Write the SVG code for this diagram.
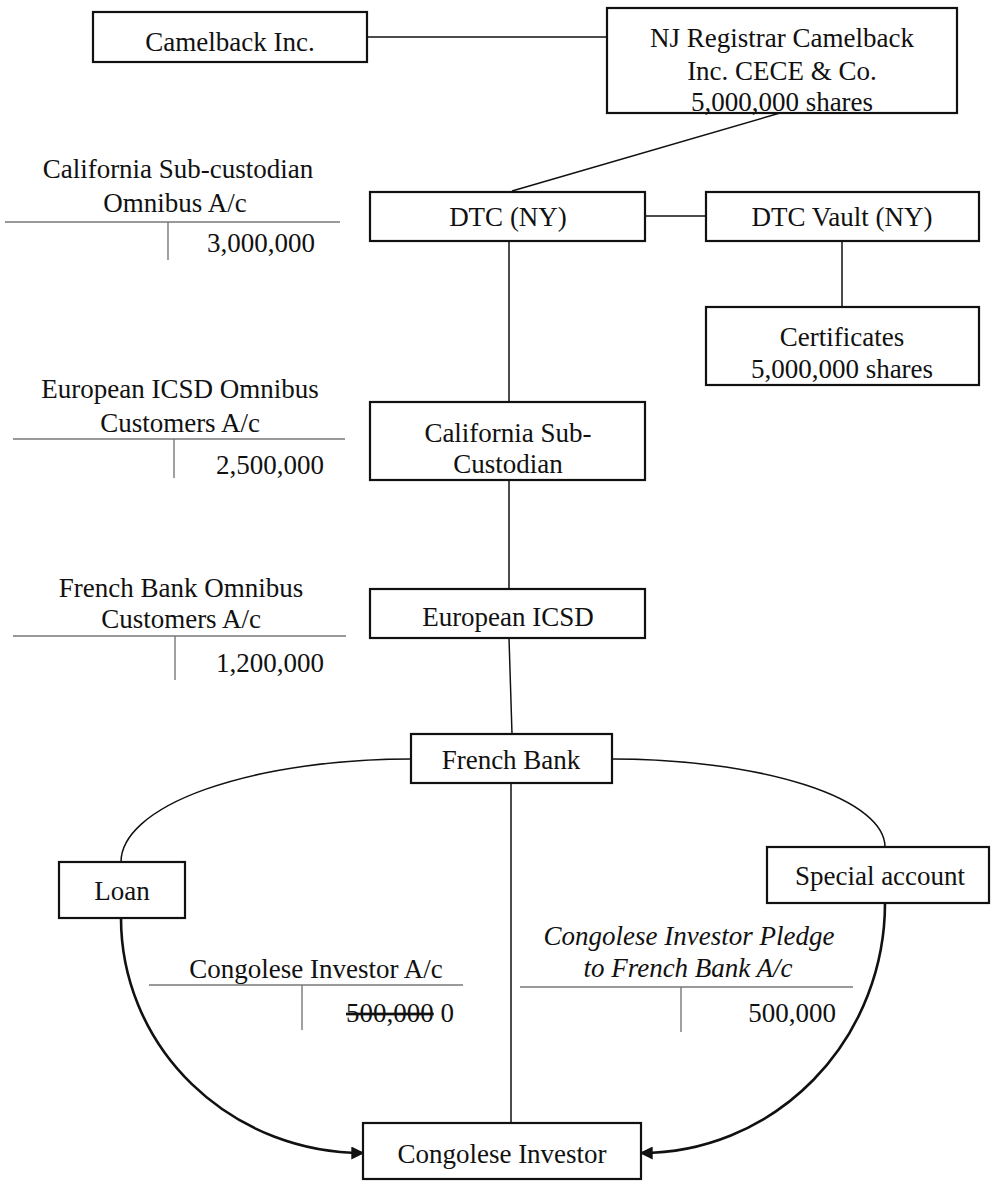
<svg xmlns="http://www.w3.org/2000/svg" width="1000" height="1181" viewBox="0 0 1000 1181">
<style>
text{font-family:"Liberation Serif","Times New Roman",serif;font-size:27px;fill:#111}
.box{fill:#fff;stroke:#111;stroke-width:2.2}
.ln{fill:none;stroke:#111;stroke-width:1.5}
.thick{fill:none;stroke:#111;stroke-width:2.6}
.tl{fill:none;stroke:#777;stroke-width:1.4}
.c{text-anchor:middle}
.r{text-anchor:end}
</style>
<defs>
<marker id="arr" viewBox="0 0 10 10" refX="9" refY="5" markerWidth="5" markerHeight="5" markerUnits="strokeWidth" orient="auto">
<path d="M0,0 L10,5 L0,10 z" fill="#111"/>
</marker>
</defs>
<g id="connectors">
<line class="ln" x1="367" y1="37" x2="607" y2="37"/>
<line class="ln" x1="780" y1="113" x2="512" y2="191"/>
<line class="ln" x1="645" y1="216" x2="706" y2="216"/>
<line class="ln" x1="842" y1="241" x2="842" y2="307"/>
<line class="ln" x1="509" y1="241" x2="509" y2="402"/>
<line class="ln" x1="509" y1="480" x2="509" y2="589"/>
<line class="ln" x1="509" y1="638" x2="512" y2="734"/>
<line class="ln" x1="511" y1="783" x2="511" y2="1123"/>
<path class="ln" d="M411,759 A290,103 0 0 0 121,862"/>
<path class="ln" d="M612,759 A273,88 0 0 1 885,847"/>
<path class="thick" d="M121,918 A242,235 0 0 0 363,1153" marker-end="url(#arr)"/>
<path class="thick" d="M885,903 A244,250 0 0 1 641,1153" marker-end="url(#arr)"/>
</g>
<g id="camelback"><rect class="box" x="93" y="12" width="274" height="50"/><text class="c" x="230" y="51">Camelback Inc.</text></g>
<g id="nj-registrar"><rect class="box" x="607" y="8" width="350" height="105"/>
<text class="c" x="782" y="47">NJ Registrar Camelback</text>
<text class="c" x="782" y="80">Inc. CECE &amp; Co.</text>
<text class="c" x="782" y="111">5,000,000 shares</text></g>
<g id="dtc"><rect class="box" x="370" y="192" width="275" height="49"/><text class="c" x="508" y="226">DTC (NY)</text></g>
<g id="dtc-vault"><rect class="box" x="706" y="192" width="273" height="49"/><text class="c" x="842" y="226">DTC Vault (NY)</text></g>
<g id="certificates"><rect class="box" x="706" y="307" width="273" height="78"/>
<text class="c" x="842" y="346">Certificates</text><text class="c" x="842" y="378">5,000,000 shares</text></g>
<g id="california-sub-custodian"><rect class="box" x="370" y="402" width="275" height="78"/>
<text class="c" x="508" y="442">California Sub-</text><text class="c" x="508" y="473">Custodian</text></g>
<g id="european-icsd"><rect class="box" x="370" y="589" width="275" height="49"/><text class="c" x="508" y="626">European ICSD</text></g>
<g id="french-bank"><rect class="box" x="411" y="734" width="201" height="49"/><text class="c" x="511" y="769">French Bank</text></g>
<g id="loan"><rect class="box" x="59" y="862" width="126" height="56"/><text class="c" x="122" y="900">Loan</text></g>
<g id="special-account"><rect class="box" x="767" y="847" width="222" height="56"/><text class="c" x="880" y="885">Special account</text></g>
<g id="congolese-investor"><rect class="box" x="363" y="1123" width="278" height="56"/><text class="c" x="502" y="1163">Congolese Investor</text></g>
<g id="t-california">
<text class="c" x="178" y="178">California Sub-custodian</text>
<text class="c" x="175" y="212">Omnibus A/c</text>
<line class="tl" x1="5" y1="222" x2="340" y2="222"/><line class="tl" x1="168" y1="222" x2="168" y2="260"/>
<text class="r" x="315" y="252">3,000,000</text></g>
<g id="t-european">
<text class="c" x="180" y="398">European ICSD Omnibus</text>
<text class="c" x="180" y="432">Customers A/c</text>
<line class="tl" x1="13" y1="439" x2="345" y2="439"/><line class="tl" x1="174" y1="439" x2="174" y2="478"/>
<text class="r" x="324" y="474">2,500,000</text></g>
<g id="t-french">
<text class="c" x="181" y="597">French Bank Omnibus</text>
<text class="c" x="181" y="628">Customers A/c</text>
<line class="tl" x1="13" y1="636" x2="346" y2="636"/><line class="tl" x1="175" y1="636" x2="175" y2="680"/>
<text class="r" x="324" y="672">1,200,000</text></g>
<g id="t-congolese">
<text class="c" x="316" y="978">Congolese Investor A/c</text>
<line class="tl" x1="149" y1="985" x2="463" y2="985"/><line class="tl" x1="302" y1="985" x2="302" y2="1030"/>
<text class="r" x="454" y="1022"><tspan text-decoration="line-through">500,000</tspan> 0</text></g>
<g id="t-pledge">
<text class="c" x="689" y="945" font-style="italic">Congolese Investor Pledge</text>
<text class="c" x="688" y="977" font-style="italic">to French Bank A/c</text>
<line class="tl" x1="520" y1="987" x2="853" y2="987"/><line class="tl" x1="681" y1="987" x2="681" y2="1032"/>
<text class="r" x="836" y="1022">500,000</text></g>
</svg>
